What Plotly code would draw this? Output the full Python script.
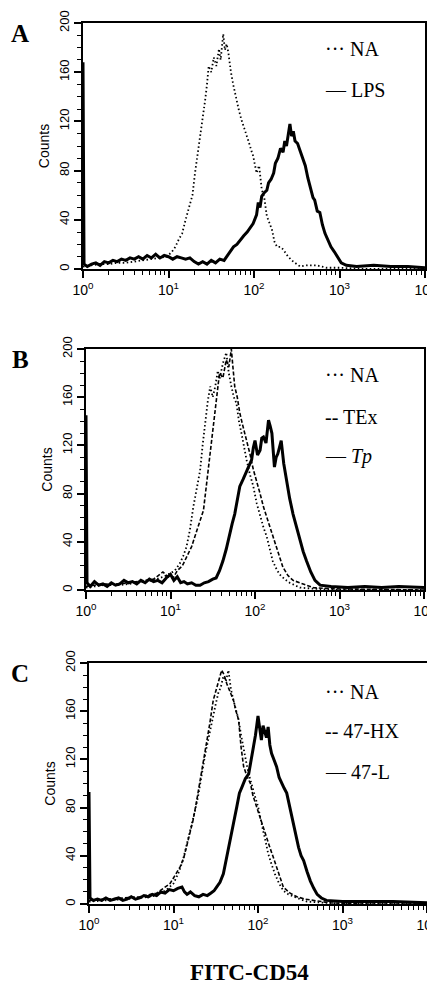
import plotly.graph_objects as go

# (log10 FL1 channel, counts)
a_na = [(0, 2), (0.1, 3), (0.2, 4), (0.3, 4), (0.4, 5), (0.5, 5), (0.6, 6), (0.7, 7), (0.8, 8), (0.9, 9),
        (0.98, 10), (1.04, 14), (1.08, 18), (1.12, 24), (1.16, 29), (1.2, 40), (1.25, 52), (1.28, 60),
        (1.31, 78), (1.34, 92), (1.37, 106), (1.4, 124), (1.43, 138), (1.45, 150), (1.47, 165), (1.5, 160),
        (1.53, 172), (1.56, 165), (1.59, 179), (1.61, 170), (1.64, 191), (1.66, 178), (1.68, 183), (1.7, 176),
        (1.73, 160), (1.76, 149), (1.79, 138), (1.82, 130), (1.85, 122), (1.88, 116), (1.91, 110), (1.94, 103),
        (1.97, 96), (1.99, 92), (2.03, 78), (2.06, 84), (2.09, 65), (2.12, 58), (2.15, 43), (2.18, 38),
        (2.21, 32), (2.24, 22), (2.27, 18), (2.31, 18), (2.34, 16), (2.4, 10), (2.46, 6), (2.54, 2),
        (2.62, 3), (2.73, 3), (2.85, 1), (3.0, 1), (3.3, 0), (3.6, 0), (4.0, 0)]
a_lps = [(0, 168), (0.012, 4), (0.05, 2), (0.1, 4), (0.15, 5), (0.2, 3), (0.25, 6), (0.3, 5), (0.35, 7),
         (0.4, 6), (0.45, 8), (0.5, 7), (0.55, 9), (0.6, 8), (0.65, 10), (0.7, 8), (0.75, 11), (0.8, 9),
         (0.85, 12), (0.9, 9), (0.95, 11), (1.0, 10), (1.05, 8), (1.1, 10), (1.15, 9), (1.2, 8), (1.25, 9),
         (1.3, 6), (1.35, 4), (1.4, 6), (1.45, 4), (1.5, 7), (1.55, 5), (1.6, 8), (1.65, 7), (1.68, 10),
         (1.72, 13), (1.76, 18), (1.8, 20), (1.84, 24), (1.88, 27), (1.92, 30), (1.96, 34), (1.99, 37),
         (2.03, 44), (2.05, 54), (2.07, 50), (2.09, 59), (2.12, 62), (2.15, 64), (2.17, 70), (2.2, 73),
         (2.23, 78), (2.25, 86), (2.28, 90), (2.31, 98), (2.34, 95), (2.36, 104), (2.38, 100), (2.4, 110),
         (2.42, 118), (2.44, 108), (2.46, 112), (2.48, 104), (2.51, 102), (2.54, 96), (2.57, 90), (2.6, 84),
         (2.63, 74), (2.66, 67), (2.69, 58), (2.71, 56), (2.74, 47), (2.77, 46), (2.8, 36), (2.83, 29),
         (2.86, 24), (2.9, 18), (2.94, 14), (2.98, 9), (3.02, 5), (3.08, 3), (3.2, 2), (3.4, 3), (3.6, 2),
         (3.8, 2), (4.0, 1)]

b_na = [(0, 2), (0.2, 4), (0.4, 4), (0.6, 6), (0.8, 8), (0.95, 12), (1.05, 16), (1.11, 22), (1.15, 28),
        (1.19, 36), (1.23, 50), (1.27, 69), (1.31, 84), (1.35, 99), (1.38, 120), (1.41, 141), (1.44, 156),
        (1.47, 169), (1.5, 160), (1.53, 169), (1.56, 182), (1.58, 175), (1.62, 188), (1.66, 197), (1.69, 180),
        (1.72, 169), (1.75, 160), (1.78, 155), (1.81, 140), (1.84, 130), (1.87, 118), (1.9, 108), (1.94, 96),
        (1.98, 86), (2.02, 72), (2.06, 61), (2.1, 52), (2.14, 44), (2.18, 32), (2.21, 24), (2.25, 18),
        (2.29, 13), (2.35, 9), (2.41, 6), (2.53, 2), (2.7, 1), (3.0, 0), (4.0, 0)]
b_tex = [(0, 3), (0.2, 5), (0.4, 5), (0.6, 7), (0.8, 9), (0.91, 15), (0.97, 11), (1.03, 10), (1.08, 16),
         (1.14, 20), (1.19, 27), (1.25, 36), (1.31, 49), (1.35, 58), (1.39, 66), (1.43, 90), (1.47, 113),
         (1.5, 130), (1.53, 147), (1.56, 165), (1.58, 180), (1.62, 176), (1.66, 191), (1.69, 185), (1.72, 200),
         (1.74, 184), (1.76, 169), (1.79, 160), (1.82, 147), (1.85, 138), (1.88, 130), (1.91, 120), (1.94, 113),
         (1.98, 100), (2.02, 91), (2.06, 80), (2.1, 69), (2.14, 60), (2.18, 52), (2.22, 44), (2.25, 36),
         (2.29, 27), (2.33, 19), (2.39, 12), (2.45, 8), (2.57, 5), (2.69, 2), (2.9, 1), (4.0, 0)]
b_tp = [(0, 145), (0.012, 6), (0.05, 3), (0.1, 7), (0.15, 4), (0.2, 5), (0.25, 3), (0.3, 6), (0.35, 4),
        (0.4, 5), (0.45, 8), (0.5, 6), (0.55, 7), (0.6, 5), (0.65, 8), (0.7, 6), (0.75, 9), (0.8, 7),
        (0.85, 8), (0.9, 6), (0.95, 10), (1.0, 13), (1.04, 8), (1.08, 11), (1.12, 6), (1.16, 7), (1.2, 5),
        (1.25, 6), (1.3, 4), (1.35, 4), (1.4, 6), (1.45, 7), (1.5, 9), (1.54, 10), (1.58, 16), (1.62, 24),
        (1.66, 34), (1.7, 47), (1.73, 55), (1.76, 63), (1.79, 76), (1.82, 86), (1.86, 92), (1.9, 99),
        (1.93, 104), (1.96, 108), (1.98, 118), (2.0, 124), (2.03, 112), (2.06, 116), (2.08, 126), (2.1, 127),
        (2.13, 122), (2.16, 141), (2.18, 136), (2.2, 130), (2.23, 102), (2.25, 110), (2.27, 113), (2.29, 120),
        (2.31, 124), (2.34, 105), (2.37, 91), (2.41, 76), (2.45, 63), (2.49, 52), (2.53, 41), (2.57, 32),
        (2.61, 24), (2.66, 15), (2.71, 8), (2.77, 4), (2.9, 3), (3.1, 2), (3.3, 3), (3.5, 2), (3.7, 3), (4.0, 2)]

c_na = [(0, 2), (0.2, 3), (0.4, 4), (0.6, 5), (0.8, 7), (0.92, 12), (1.0, 17), (1.06, 26), (1.11, 36),
        (1.16, 50), (1.21, 64), (1.25, 76), (1.29, 89), (1.32, 100), (1.35, 114), (1.38, 126), (1.41, 136),
        (1.44, 148), (1.47, 158), (1.5, 166), (1.53, 175), (1.56, 180), (1.59, 189), (1.62, 185), (1.65, 194),
        (1.68, 178), (1.71, 169), (1.74, 160), (1.77, 153), (1.8, 140), (1.83, 128), (1.86, 118), (1.89, 108),
        (1.92, 100), (1.94, 94), (1.97, 88), (2.0, 81), (2.03, 70), (2.06, 61), (2.09, 52), (2.12, 42),
        (2.16, 33), (2.2, 25), (2.25, 17), (2.3, 11), (2.36, 8), (2.42, 6), (2.5, 4), (2.58, 2), (2.8, 1),
        (3.2, 0), (4.0, 0)]
c_hx = [(0, 3), (0.2, 4), (0.4, 5), (0.6, 6), (0.8, 9), (0.96, 17), (1.02, 24), (1.08, 31), (1.12, 38),
        (1.15, 47), (1.19, 58), (1.23, 69), (1.27, 84), (1.31, 100), (1.35, 116), (1.39, 131), (1.43, 150),
        (1.47, 169), (1.5, 176), (1.53, 183), (1.55, 188), (1.57, 194), (1.6, 190), (1.63, 183), (1.67, 176),
        (1.71, 169), (1.74, 160), (1.77, 153), (1.8, 130), (1.83, 114), (1.87, 106), (1.91, 100), (1.94, 90),
        (1.98, 81), (2.02, 72), (2.06, 64), (2.1, 55), (2.14, 47), (2.18, 39), (2.22, 31), (2.26, 22),
        (2.3, 14), (2.38, 9), (2.46, 6), (2.56, 4), (2.66, 3), (2.85, 1), (3.2, 0), (4.0, 0)]
c_l = [(0, 93), (0.012, 5), (0.05, 3), (0.1, 4), (0.15, 3), (0.2, 5), (0.25, 3), (0.3, 4), (0.35, 5),
       (0.4, 3), (0.45, 4), (0.5, 6), (0.55, 4), (0.6, 5), (0.65, 7), (0.7, 6), (0.75, 8), (0.8, 7),
       (0.85, 10), (0.9, 9), (0.95, 12), (1.0, 11), (1.05, 13), (1.1, 14), (1.13, 10), (1.16, 8), (1.2, 10),
       (1.25, 7), (1.3, 6), (1.35, 8), (1.4, 7), (1.44, 9), (1.48, 11), (1.51, 14), (1.55, 18), (1.59, 25),
       (1.63, 38), (1.67, 53), (1.71, 67), (1.75, 81), (1.78, 92), (1.81, 97), (1.85, 104), (1.89, 108),
       (1.92, 120), (1.94, 128), (1.97, 140), (2.0, 156), (2.02, 145), (2.04, 136), (2.06, 148), (2.08, 142),
       (2.1, 138), (2.12, 147), (2.14, 132), (2.16, 125), (2.19, 120), (2.22, 114), (2.25, 105), (2.28, 100),
       (2.31, 96), (2.34, 92), (2.37, 82), (2.4, 72), (2.44, 60), (2.48, 47), (2.51, 40), (2.54, 36),
       (2.58, 27), (2.62, 19), (2.66, 13), (2.7, 8), (2.75, 5), (2.81, 3), (3.0, 2), (3.3, 2), (3.6, 2), (4.0, 1)]

decades = [1, 10, 100, 1000, 10000]
decade_labels = ["10<sup>0</sup>", "10<sup>1</sup>", "10<sup>2</sup>", "10<sup>3</sup>", "10<sup>4</sup>"]
count_ticks = [0, 40, 80, 120, 160, 200]
minor_x = [k * 10 ** d for d in range(4) for k in range(2, 10)]

# the page puts the figure 8px in from the top-left corner of the window
OFF = 8
W, H = 435 - OFF, 984 - OFF
SANS = "Liberation Sans Narrow, Liberation Sans, Arial"
SERIF = "Liberation Serif, Times New Roman"
DOT = "1.5px,2.5px"
DASH = "4px,2px"


def px(x):
    return (x - OFF) / W


def py(y):
    return 1 - (y - OFF) / H


# panel boxes in window pixels: left, right, top, bottom
panels = [
    dict(box=(83, 425, 23, 269), letter="A",
         series=[(a_na, DOT, 1.8), (a_lps, "solid", 3)],
         legend=["··· NA", "— LPS"], leg_y=[49, 90]),
    dict(box=(86, 424, 349, 590), letter="B",
         series=[(b_na, DOT, 1.8), (b_tex, DASH, 1.6), (b_tp, "solid", 3)],
         legend=["··· NA", "-- TEx", "— <i>Tp</i>"], leg_y=[375, 417, 457]),
    dict(box=(89, 427, 663, 904), letter="C",
         series=[(c_na, DOT, 1.8), (c_hx, DASH, 1.6), (c_l, "solid", 3)],
         legend=["··· NA", "-- 47-HX", "— 47-L"], leg_y=[692, 731, 772]),
]

fig = go.Figure()
annotations = []
layout = {}
for i, p in enumerate(panels):
    n = "" if i == 0 else str(i + 1)
    l, r, t, b = p["box"]
    for pts, dash, w in p["series"]:
        fig.add_trace(go.Scatter(
            x=[10 ** lg for lg, _ in pts], y=[c for _, c in pts],
            mode="lines", line=dict(color="black", width=w, dash=dash),
            xaxis="x" + n, yaxis="y" + n, showlegend=False, hoverinfo="skip"))
    layout["xaxis" + n] = dict(
        type="log", range=[0, 4], domain=[px(l), px(r)], anchor="y" + n, automargin=False,
        tickmode="array", tickvals=decades, ticktext=decade_labels, ticklabeloverflow="allow",
        ticks="outside", ticklen=7, tickwidth=1.5, tickcolor="black",
        minor=dict(ticks="outside", ticklen=4, tickwidth=1, tickcolor="black",
                   tickmode="array", tickvals=minor_x),
        showline=True, linewidth=2, linecolor="black", mirror=True,
        showgrid=False, zeroline=False,
        tickfont=dict(family=SANS, size=14, color="black"))
    layout["yaxis" + n] = dict(
        range=[0, 200], domain=[py(b), py(t)], anchor="x" + n, automargin=False,
        tickmode="array", tickvals=count_ticks, tickangle=-90, ticklabeloverflow="allow",
        ticks="outside", ticklen=7, tickwidth=1.5, tickcolor="black",
        minor=dict(ticks="outside", ticklen=4, tickwidth=1, tickcolor="black", dtick=10),
        showline=True, linewidth=2, linecolor="black", mirror=True,
        showgrid=False, zeroline=False,
        tickfont=dict(family=SANS, size=13, color="black"),
        title=dict(text="Counts", standoff=4, font=dict(family=SANS, size=14, color="black")))
    annotations.append(dict(
        text="<b>%s</b>" % p["letter"], x=px(20), y=py(t + 10), xref="paper", yref="paper",
        xanchor="center", yanchor="middle", showarrow=False,
        font=dict(family=SERIF, size=25, color="black")))
    for txt, ly in zip(p["legend"], p["leg_y"]):
        annotations.append(dict(
            text=txt, x=px(323), y=py(ly), xref="paper", yref="paper",
            xanchor="left", yanchor="middle", showarrow=False,
            font=dict(family=SERIF, size=20, color="black")))

annotations.append(dict(
    text="<b>FITC-CD54</b>", x=px(250), y=py(972), xref="paper", yref="paper",
    xanchor="center", yanchor="middle", showarrow=False,
    font=dict(family=SERIF, size=23, color="black")))

fig.update_layout(
    width=W, height=H,
    margin=dict(l=0, r=0, t=0, b=0),
    paper_bgcolor="white", plot_bgcolor="white",
    annotations=annotations,
    **layout)

fig.write_html("out.html")
